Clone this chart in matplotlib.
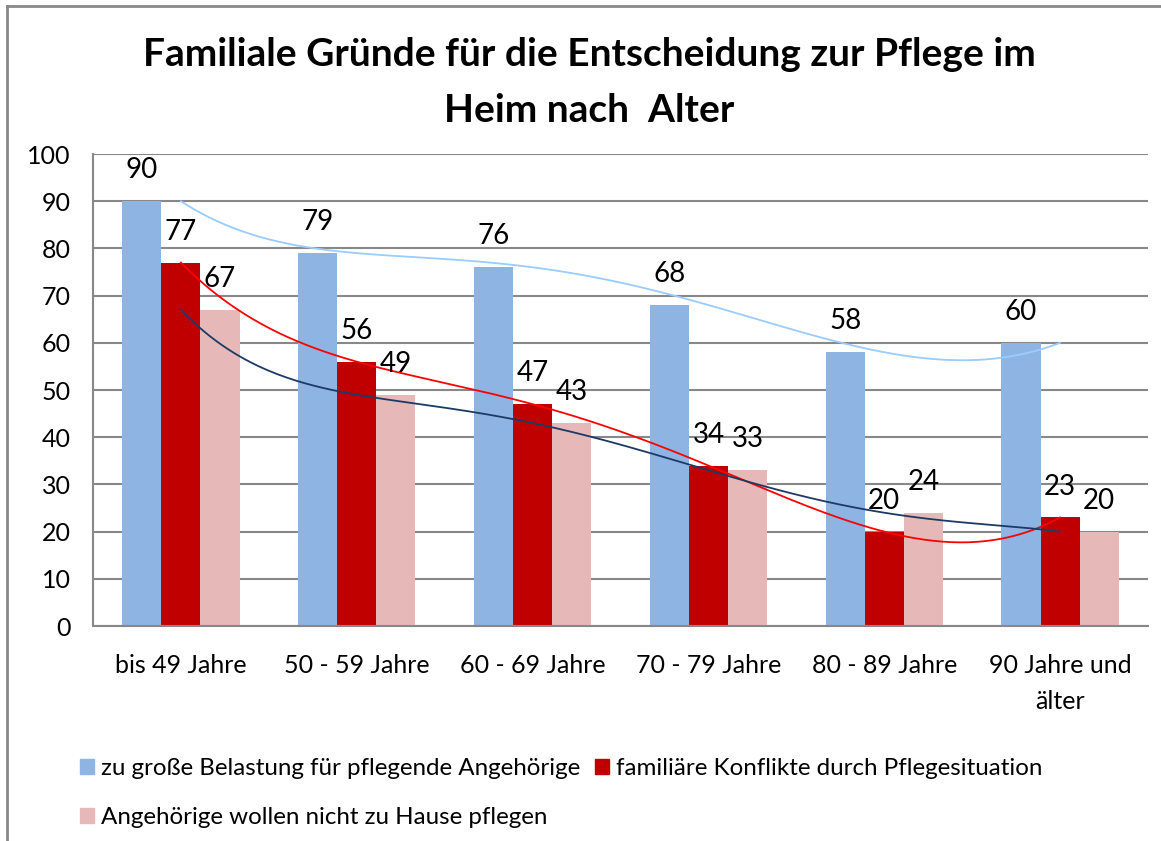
import matplotlib.pyplot as plt
from matplotlib.patches import Patch
from matplotlib.lines import Line2D
import numpy as np

plt.rcParams['font.family'] = ['Lato', 'DejaVu Sans']

# data
categories = ['bis 49 Jahre', '50 - 59 Jahre', '60 - 69 Jahre', '70 - 79 Jahre',
              '80 - 89 Jahre', '90 Jahre und\nälter']
belastung = [90, 79, 76, 68, 58, 60]
konflikte = [77, 56, 47, 34, 20, 23]
nicht_pflegen = [67, 49, 43, 33, 24, 20]

series_names = ['zu große Belastung für pflegende Angehörige',
                'familiäre Konflikte durch Pflegesituation',
                'Angehörige wollen nicht zu Hause pflegen']
bar_colors = ['#8EB4E3', '#C00000', '#E6B9B8']
trend_colors = ['#99CCFF', '#FF0000', '#1B3A66']

W, H = 1161, 841
fig = plt.figure(figsize=(W / 100, H / 100), dpi=100)
ax = fig.add_axes([93 / W, (H - 626) / H, (1148 - 93) / W, (626 - 154) / H])

x = np.arange(len(categories))
w = 1 / 4.5  # gap width 150 %
for i, (vals, col) in enumerate(zip([belastung, konflikte, nicht_pflegen], bar_colors)):
    pos = x + (i - 1) * w
    ax.bar(pos, vals, width=w, color=col, zorder=2)
    for px, v in zip(pos, vals):
        ax.annotate(str(v), (px, v), xytext=(0, 16.5), textcoords='offset points',
                    ha='center', va='baseline', fontsize=20, color='black', zorder=4)

# polynomial trend lines (order 5) through each series
xs = np.linspace(0, len(categories) - 1, 300)
for vals, col in zip([belastung, konflikte, nicht_pflegen], trend_colors):
    coef = np.polyfit(x, vals, 5)
    ax.plot(xs, np.polyval(coef, xs), color=col, lw=1.3, zorder=3)

ax.set_xlim(-0.5, len(categories) - 0.5)
ax.set_ylim(0, 100)
ax.set_yticks(range(0, 101, 10))
ax.set_xticks(x)
ax.set_xticklabels(categories, linespacing=1.7)
ax.tick_params(axis='both', length=0, labelsize=18)
ax.tick_params(axis='x', pad=20)
ax.tick_params(axis='y', pad=16)
ax.yaxis.grid(True, color='#888888', lw=1.5, zorder=0)
ax.set_axisbelow(True)
for s in ['top', 'right']:
    ax.spines[s].set_visible(False)
for s in ['left', 'bottom']:
    ax.spines[s].set_color('#888888')
    ax.spines[s].set_linewidth(1.5)

fig.text(589 / W, (H - 54) / H, 'Familiale Gründe für die Entscheidung zur Pflege im',
         ha='center', va='center', fontsize=28, fontweight='bold')
fig.text(589 / W, (H - 110) / H, 'Heim nach  Alter',
         ha='center', va='center', fontsize=28, fontweight='bold')

handles = [Patch(color=c) for c in bar_colors]
order = [0, 2, 1]
fig.legend([handles[i] for i in order], [series_names[i] for i in order],
           ncol=2, loc='upper left', bbox_to_anchor=(80 / W, (H - 758) / H),
           frameon=False, fontsize=17.4, handlelength=0.58, handleheight=0.58,
           handletextpad=0.3, columnspacing=0.6, labelspacing=1.17,
           borderaxespad=0, borderpad=0)

# chart border
fig.add_artist(Line2D([7 / W, 1], [(H - 6) / H, (H - 6) / H], color='#888888', lw=2))
fig.add_artist(Line2D([7 / W, 7 / W], [0, (H - 6) / H], color='#888888', lw=2))

fig.savefig('out.png', dpi=100)
